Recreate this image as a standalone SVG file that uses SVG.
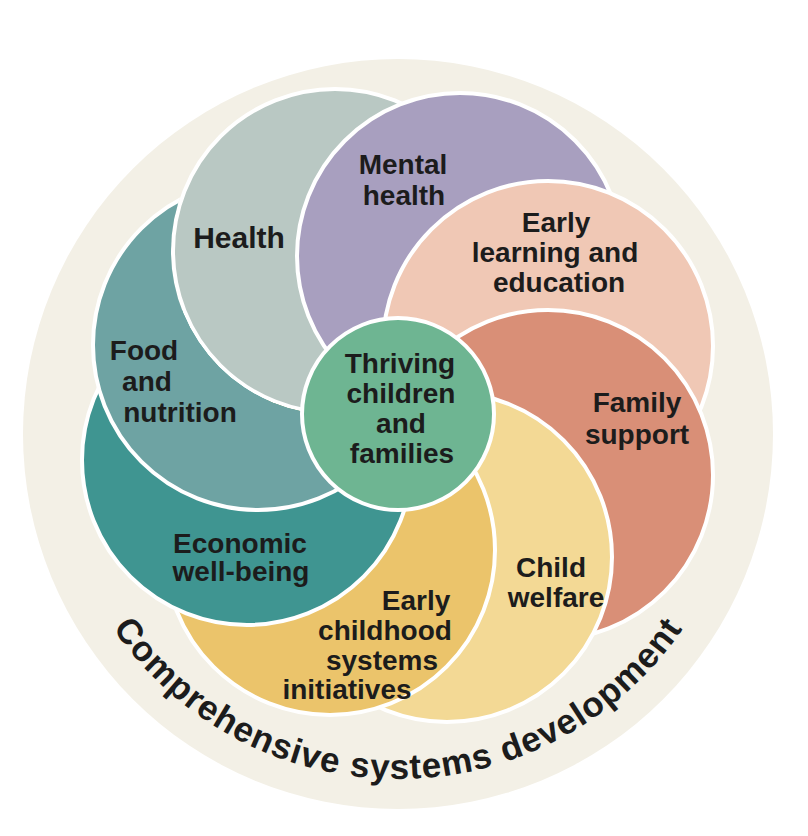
<svg xmlns="http://www.w3.org/2000/svg" width="808" height="836" viewBox="0 0 808 836">
  <style>
    .petal { stroke: #ffffff; stroke-width: 4; }
    .lbl { font-family: "Liberation Sans", Arial, sans-serif; font-weight: bold; font-size: 28px; fill: #1c1c1c; text-anchor: middle; }
    .arc { font-family: "Liberation Sans", Arial, sans-serif; font-weight: bold; font-size: 35px; fill: #1c1c1c; letter-spacing: 1px; }
  </style>
  <defs>
    <mask id="notHealth" maskUnits="userSpaceOnUse" x="0" y="0" width="808" height="836">
      <rect x="0" y="0" width="808" height="836" fill="#fff"/>
      <circle cx="335" cy="251" r="164" fill="#000"/>
    </mask>
    <path id="ringPath" d="M 53 434 A 345 345 0 0 0 743 434"/>
  </defs>
  <rect x="0" y="0" width="808" height="836" fill="#ffffff"/>

  <g id="ring">
    <circle cx="398" cy="434" r="375" fill="#f3f0e6"/>
    <text class="arc"><textPath href="#ringPath" startOffset="50%" text-anchor="middle">Comprehensive systems development</textPath></text>
  </g>

  <g id="health">
    <circle class="petal" cx="335" cy="251" r="162" fill="#b9c8c3"/>
    <text class="lbl" style="font-size:30px"><tspan x="239" y="248">Health</tspan></text>
  </g>

  <g id="mental-health">
    <circle class="petal" cx="460" cy="256" r="163" fill="#a89fbf"/>
    <text class="lbl"><tspan x="403" y="174">Mental</tspan><tspan x="404" y="205">health</tspan></text>
  </g>

  <g id="early-learning">
    <circle class="petal" cx="548" cy="346" r="165" fill="#f0c8b5"/>
    <text class="lbl"><tspan x="556" y="232">Early</tspan><tspan x="555" y="262">learning and</tspan><tspan x="559" y="292">education</tspan></text>
  </g>

  <g id="family-support">
    <circle class="petal" cx="548" cy="475" r="165" fill="#d98f77"/>
    <text class="lbl"><tspan x="637" y="412">Family</tspan><tspan x="637" y="444">support</tspan></text>
  </g>

  <g id="child-welfare">
    <circle class="petal" cx="447" cy="557" r="165" fill="#f3d995"/>
    <text class="lbl"><tspan x="551" y="577">Child</tspan><tspan x="556" y="607">welfare</tspan></text>
  </g>

  <g id="early-childhood">
    <circle class="petal" cx="330" cy="550" r="165" fill="#ebc46b" mask="url(#notHealth)"/>
    <text class="lbl"><tspan x="416" y="610">Early</tspan><tspan x="385" y="640">childhood</tspan><tspan x="382" y="670">systems</tspan><tspan x="347" y="699">initiatives</tspan></text>
  </g>

  <g id="economic">
    <circle class="petal" cx="247" cy="460" r="165" fill="#3f9591" mask="url(#notHealth)"/>
    <text class="lbl"><tspan x="240" y="553">Economic</tspan><tspan x="241" y="581">well-being</tspan></text>
  </g>

  <g id="food-nutrition">
    <circle class="petal" cx="258" cy="345" r="165" fill="#6ea3a3" mask="url(#notHealth)"/>
    <text class="lbl"><tspan x="144" y="360">Food</tspan><tspan x="147" y="391">and</tspan><tspan x="180" y="422">nutrition</tspan></text>
  </g>

  <g id="thriving">
    <circle class="petal" cx="398" cy="414" r="96" fill="#6eb592"/>
    <text class="lbl"><tspan x="400" y="373">Thriving</tspan><tspan x="401" y="403">children</tspan><tspan x="401" y="433">and</tspan><tspan x="402" y="463">families</tspan></text>
  </g>
</svg>
